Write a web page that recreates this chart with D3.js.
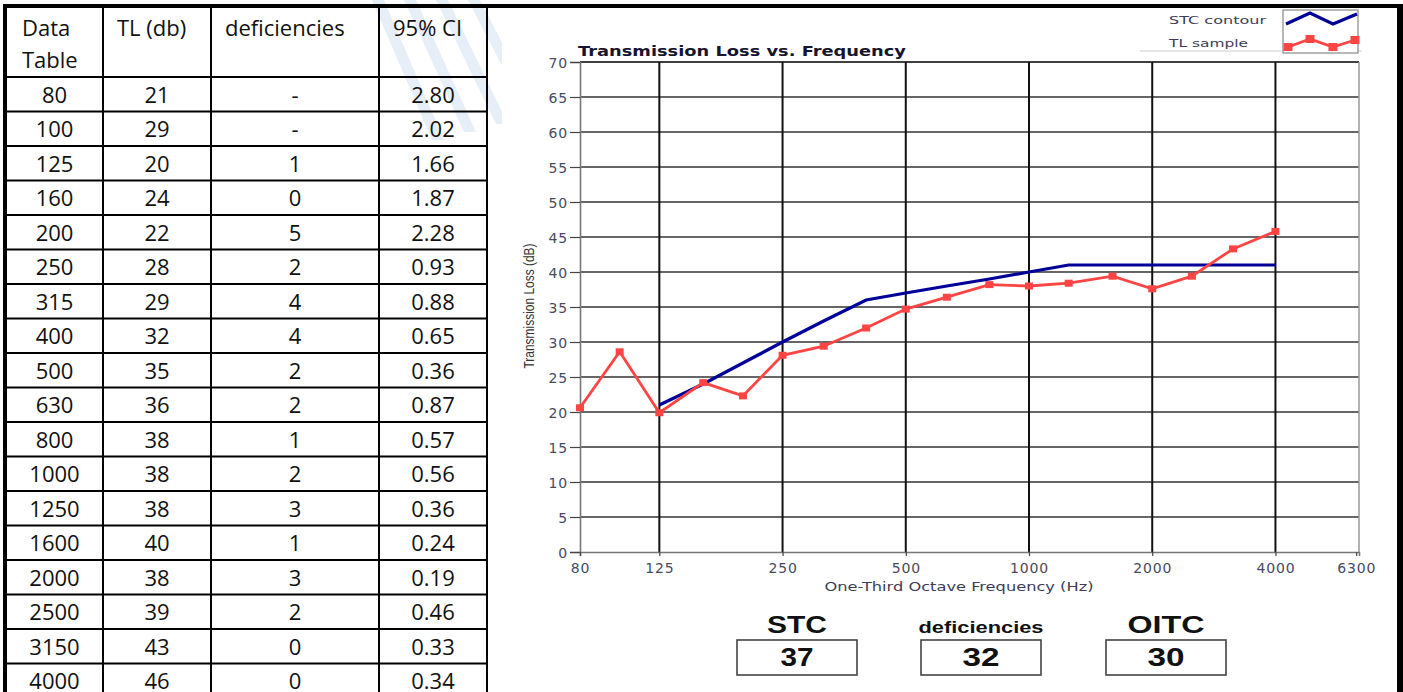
<!DOCTYPE html>
<html>
<head>
<meta charset="utf-8">
<script src="https://cdn.jsdelivr.net/npm/d3@7"></script>
<style>
  body { margin: 0; background: #fff; }
  svg { display: block; }
</style>
</head>
<body>
<svg id="chart" width="1403" height="692"></svg>
<script>
// table + chart values
var freqs = [80, 100, 125, 160, 200, 250, 315, 400, 500, 630, 800, 1000, 1250, 1600, 2000, 2500, 3150, 4000];
var tlTable = [21, 29, 20, 24, 22, 28, 29, 32, 35, 36, 38, 38, 38, 40, 38, 39, 43, 46];
var deficiencies = ['-', '-', '1', '0', '5', '2', '4', '4', '2', '2', '1', '2', '3', '1', '3', '2', '0', '0'];
var ci95 = ['2.80', '2.02', '1.66', '1.87', '2.28', '0.93', '0.88', '0.65', '0.36', '0.87', '0.57', '0.56', '0.36', '0.24', '0.19', '0.46', '0.33', '0.34'];

var tlSample = [20.6, 28.6, 19.9, 24.2, 22.3, 28.1, 29.4, 32.0, 34.7, 36.4, 38.2, 38.0, 38.4, 39.4, 37.6, 39.4, 43.3, 45.8];
var stcFreqs = [125, 160, 200, 250, 315, 400, 500, 630, 800, 1000, 1250, 1600, 2000, 2500, 3150, 4000];
var stcContour = [21, 24, 27, 30, 33, 36, 37, 38, 39, 40, 41, 41, 41, 41, 41, 41];

var xTicks = [80, 125, 250, 500, 1000, 2000, 4000, 6300];
var xGrid = [125, 250, 500, 1000, 2000, 4000];
var yTicks = [0, 5, 10, 15, 20, 25, 30, 35, 40, 45, 50, 55, 60, 65, 70];

var ratingLabels = ['STC', 'deficiencies', 'OITC'];
var ratingValues = [37, 32, 30];

var tableHeaders = [['Data', 'Table'], ['TL (db)'], ['deficiencies'], ['95% CI']];

var svg = d3.select('#chart');

// faint watermark stripes behind the table
var wm = svg.append('g').attr('fill', '#e6eef8');
[[372, 0], [404, 0], [436, 0], [468, 0]].forEach(function(p, i) {
  wm.append('path')
    .attr('d', 'M' + p[0] + ',' + p[1] + ' L' + (p[0] + 12) + ',0 L' + (p[0] + 72) + ',' + (140 - i * 8) + ' L' + (p[0] + 60) + ',' + (140 - i * 8) + ' Z');
});

// ---- table ----
var colX = [6, 103, 211, 379, 487];
var headTop = 6, headBot = 77, rowH = 34.5;
var rowTop = function(k) { return headBot + rowH * k; };
var tbl = svg.append('g').attr('font-family', 'Open Sans, Noto Sans, sans-serif').attr('font-size', 22).attr('fill', '#111');

tableHeaders.forEach(function(lines, c) {
  lines.forEach(function(t, j) {
    tbl.append('text').attr('x', colX[c] + (c == 0 ? 16 : 14)).attr('y', 36 + j * 32).text(t);
  });
});

var rows = freqs.map(function(f, i) { return [f, tlTable[i], deficiencies[i], ci95[i]]; });
rows.forEach(function(r, k) {
  r.forEach(function(v, c) {
    tbl.append('text')
      .attr('x', (colX[c] + colX[c + 1]) / 2)
      .attr('y', rowTop(k) + rowH / 2 + 8.5)
      .attr('text-anchor', 'middle')
      .text(v);
  });
});

var lines = svg.append('g').attr('stroke', '#000').attr('stroke-width', 2);
d3.range(0, freqs.length + 1).forEach(function(k) {
  lines.append('line').attr('x1', colX[0]).attr('x2', colX[4]).attr('y1', rowTop(k)).attr('y2', rowTop(k));
});
colX.slice(1).forEach(function(x) {
  lines.append('line').attr('x1', x).attr('x2', x).attr('y1', headTop).attr('y2', 692);
});

// white chart panel
svg.append('rect').attr('x', 502).attr('y', 9).attr('width', 896).attr('height', 683).attr('fill', '#fff');

// outer thick borders
svg.append('rect').attr('x', 3).attr('y', 4).attr('width', 4).attr('height', 688).attr('fill', '#000');
svg.append('rect').attr('x', 3).attr('y', 4).attr('width', 1400).attr('height', 4).attr('fill', '#000');
svg.append('rect').attr('x', 1397).attr('y', 4).attr('width', 6).attr('height', 688).attr('fill', '#000');

// ---- chart ----
var x = d3.scaleLog().domain([80, 6400]).range([580, 1359]);
var y = d3.scaleLinear().domain([0, 70]).range([552, 62]);
var g = svg.append('g');

// horizontal grid
g.append('g').selectAll('line').data(yTicks.filter(function(d) { return d > 0; })).enter().append('line')
  .attr('x1', x(80)).attr('x2', x(6400))
  .attr('y1', function(d) { return y(d); }).attr('y2', function(d) { return y(d); })
  .attr('stroke', function(d) { return d == 70 ? '#000' : '#333'; })
  .attr('stroke-width', 1.6);

// vertical grid
g.append('g').selectAll('line').data(xGrid).enter().append('line')
  .attr('x1', function(d) { return x(d); }).attr('x2', function(d) { return x(d); })
  .attr('y1', y(70)).attr('y2', y(0))
  .attr('stroke', '#111').attr('stroke-width', 2);

// right edge
g.append('line').attr('x1', x(6400)).attr('x2', x(6400)).attr('y1', y(70)).attr('y2', y(0))
  .attr('stroke', '#999').attr('stroke-width', 1.5);

// axes
var yAxis = g.append('g').attr('transform', 'translate(' + x(80) + ',0)')
  .call(d3.axisLeft(y).tickValues(yTicks).tickSize(10).tickPadding(2));
var xAxis = g.append('g').attr('transform', 'translate(0,' + y(0) + ')')
  .call(d3.axisBottom(x).tickValues(xTicks).tickFormat(d3.format('d')).tickSize(4).tickPadding(5));
[yAxis, xAxis].forEach(function(a) {
  a.select('.domain').attr('stroke', '#777').attr('stroke-width', 1.6);
  a.selectAll('.tick line').attr('stroke', '#444').attr('stroke-width', 1.2);
  a.selectAll('.tick text').attr('font-family', 'DejaVu Sans, Verdana, sans-serif')
    .attr('font-size', 14).attr('letter-spacing', 0.8).attr('fill', '#4a4a5e');
});
xAxis.selectAll('.tick text').attr('dy', '0.85em');
yAxis.selectAll('.tick text').attr('dy', '0.36em');

// title
g.append('text').attr('x', 578).attr('y', 56)
  .attr('font-family', 'DejaVu Sans, Verdana, sans-serif').attr('font-weight', 'bold').attr('font-size', 14)
  .attr('fill', '#15152e').attr('textLength', 328).attr('lengthAdjust', 'spacingAndGlyphs')
  .text('Transmission Loss vs. Frequency');

// axis labels
g.append('text').attr('transform', 'translate(534,306) rotate(-90)').attr('text-anchor', 'middle')
  .attr('font-family', 'Liberation Sans Narrow, Arial Narrow, sans-serif').attr('font-size', 14)
  .attr('fill', '#333').attr('textLength', 125).attr('lengthAdjust', 'spacingAndGlyphs')
  .text('Transmission Loss (dB)');
g.append('text').attr('x', 959).attr('y', 591).attr('text-anchor', 'middle')
  .attr('font-family', 'DejaVu Sans, Verdana, sans-serif').attr('font-size', 12.5)
  .attr('fill', '#3d3d55').attr('textLength', 269).attr('lengthAdjust', 'spacingAndGlyphs')
  .text('One-Third Octave Frequency (Hz)');

// series
var stcLine = d3.line().x(function(d) { return x(d[0]); }).y(function(d) { return y(d[1]); });
g.append('path').datum(stcFreqs.map(function(f, i) { return [f, stcContour[i]]; }))
  .attr('d', stcLine).attr('fill', 'none').attr('stroke', '#000099').attr('stroke-width', 3.2);

var tlPts = freqs.map(function(f, i) { return [f, tlSample[i]]; });
g.append('path').datum(tlPts)
  .attr('d', stcLine).attr('fill', 'none').attr('stroke', '#ff4444').attr('stroke-width', 2.8);
g.append('g').selectAll('rect').data(tlPts).enter().append('rect')
  .attr('x', function(d) { return x(d[0]) - 4; }).attr('y', function(d) { return y(d[1]) - 3.5; })
  .attr('width', 8).attr('height', 7).attr('fill', '#ff4444');

// legend
var lg = svg.append('g');
lg.append('line').attr('x1', 1140).attr('x2', 1362).attr('y1', 51).attr('y2', 51).attr('stroke', '#ccc').attr('stroke-width', 1.2);
lg.append('rect').attr('x', 1283).attr('y', 10).attr('width', 75).attr('height', 43)
  .attr('fill', '#fff').attr('stroke', '#888').attr('stroke-width', 1.2);
var legendLabels = ['STC contour', 'TL sample'];
var legendW = [97, 79];
legendLabels.forEach(function(t, i) {
  lg.append('text').attr('x', 1169).attr('y', 24 + i * 23)
    .attr('font-family', 'DejaVu Sans, Verdana, sans-serif').attr('font-size', 11)
    .attr('fill', '#3d3d55').attr('textLength', legendW[i]).attr('lengthAdjust', 'spacingAndGlyphs').text(t);
});
var lgLine = d3.line();
lg.append('path').attr('d', lgLine([[1286, 24], [1310, 13], [1333, 24], [1357, 14]]))
  .attr('fill', 'none').attr('stroke', '#000099').attr('stroke-width', 3.2);
var lgRed = [[1288, 47], [1310, 39], [1333, 47], [1355, 40]];
lg.append('path').attr('d', lgLine(lgRed)).attr('fill', 'none').attr('stroke', '#ff4444').attr('stroke-width', 2.8);
lg.selectAll('rect.m').data(lgRed).enter().append('rect').attr('class', 'm')
  .attr('x', function(d) { return d[0] - 4.5; }).attr('y', function(d) { return d[1] - 4; })
  .attr('width', 9).attr('height', 8).attr('fill', '#ff4444');

// rating boxes
var boxX = [737, 921, 1106];
var boxW = 120;
var labelW = [60, 125, 77];
var rt = svg.append('g').attr('font-family', 'Liberation Sans, Arial, sans-serif').attr('font-weight', 'bold').attr('fill', '#111');
ratingLabels.forEach(function(t, i) {
  var cx = boxX[i] + boxW / 2;
  rt.append('text').attr('x', cx).attr('y', 633).attr('text-anchor', 'middle')
    .attr('font-size', i == 1 ? 16.5 : 23.5).attr('textLength', labelW[i]).attr('lengthAdjust', 'spacingAndGlyphs').text(t);
  rt.append('rect').attr('x', boxX[i]).attr('y', 640).attr('width', boxW).attr('height', 35)
    .attr('fill', '#fff').attr('stroke', '#444').attr('stroke-width', 1.6);
  rt.append('text').attr('x', cx).attr('y', 666).attr('text-anchor', 'middle')
    .attr('font-size', 25).attr('textLength', i == 0 ? 33 : 37).attr('lengthAdjust', 'spacingAndGlyphs').text(ratingValues[i]);
});
</script>
</body>
</html>
